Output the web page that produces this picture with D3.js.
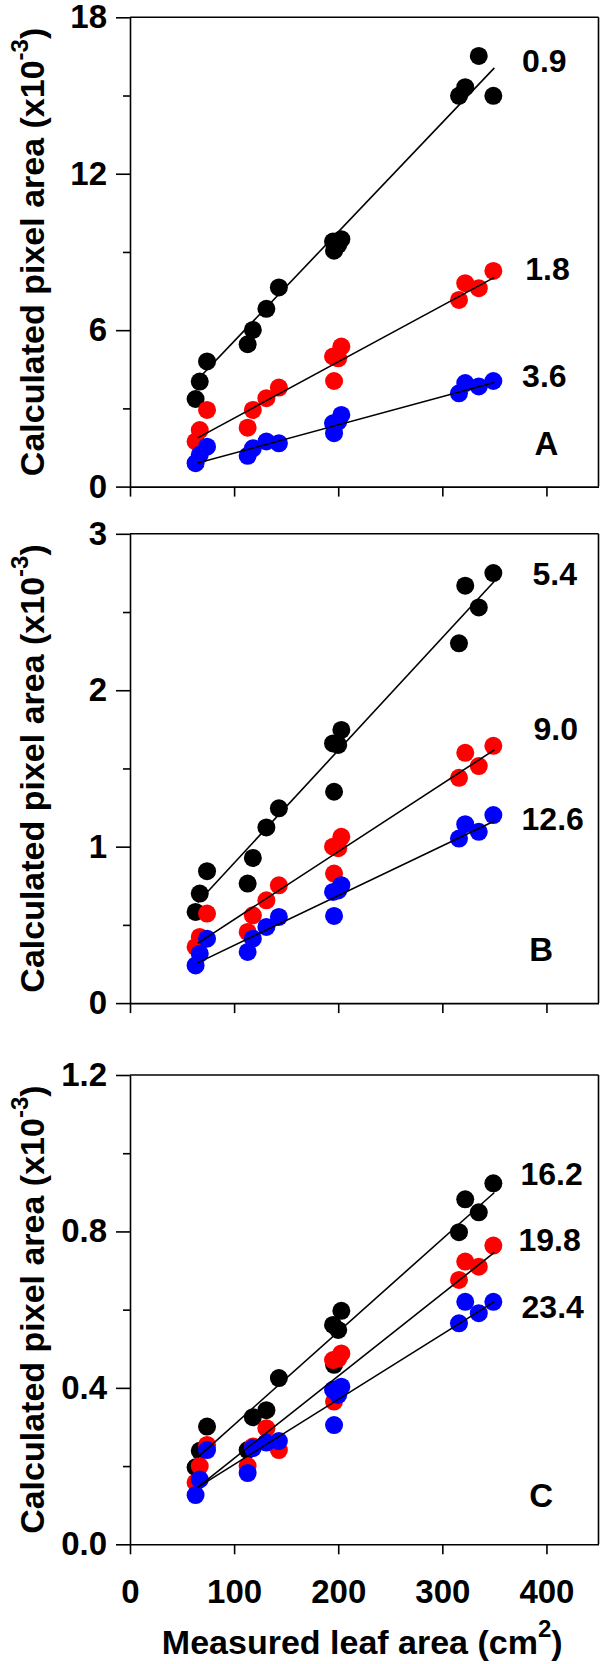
<!DOCTYPE html>
<html>
<head>
<meta charset="utf-8">
<script src="https://cdn.jsdelivr.net/npm/d3@7"></script>
<style>
  html, body { margin: 0; padding: 0; background: #fff; }
  svg { display: block; font-family: "Liberation Sans", Arial, Helvetica, sans-serif; font-weight: bold; }
</style>
</head>
<body>
<svg id="chart" width="600" height="1664"></svg>
<script>
// ---- data ----
const leafArea = [63, 67, 74, 113, 118, 131, 143, 195, 196, 200, 203, 316, 322, 335, 349];

// Panel A
const a_09 = [3.36, 4.03, 4.80, 5.46, 6.01, 6.82, 7.64, 9.40, 9.05, 9.27, 9.49, 14.99, 15.32, 16.52, 14.99];
const a_18 = [1.73, 2.17, 2.94, 2.26, 2.94, 3.39, 3.80, 4.99, 4.05, 4.92, 5.37, 7.16, 7.80, 7.61, 8.27];
const a_36 = [0.90, 1.22, 1.53, 1.18, 1.47, 1.73, 1.66, 2.43, 2.05, 2.49, 2.75, 3.58, 3.97, 3.84, 4.05];
// Panel B
const b_54 = [0.583, 0.70, 0.843, 0.764, 0.928, 1.123, 1.245, 1.66, 1.351, 1.65, 1.746, 2.30, 2.668, 2.529, 2.749];
const b_90 = [0.359, 0.423, 0.572, 0.455, 0.561, 0.657, 0.753, 1.00, 0.828, 0.99, 1.063, 1.44, 1.60, 1.515, 1.645];
const b_126 = [0.241, 0.316, 0.412, 0.327, 0.412, 0.487, 0.551, 0.711, 0.557, 0.72, 0.754, 1.052, 1.144, 1.095, 1.202];
// Panel C
const c_162 = [0.197, 0.239, 0.301, 0.241, 0.325, 0.343, 0.425, 0.561, 0.459, 0.548, 0.597, 0.798, 0.882, 0.849, 0.923];
const c_198 = [0.158, 0.200, 0.254, 0.200, 0.250, 0.297, 0.241, 0.471, 0.365, 0.475, 0.488, 0.676, 0.723, 0.710, 0.764];
const c_234 = [0.126, 0.166, 0.241, 0.182, 0.246, 0.260, 0.264, 0.395, 0.305, 0.382, 0.403, 0.565, 0.620, 0.591, 0.620];

// regression fits (slope, intercept) per series
const fitSlopeA = [0.04194, 0.0216, 0.01083];
const fitInterA = [1.38, 0.465, 0.20];
const fitSlopeB = [0.007206, 0.00434, 0.00318];
const fitInterB = [0.1745, 0.10, 0.0506];
const fitSlopeC = [0.002376, 0.002107, 0.001666];
const fitInterC = [0.068, 0.0089, 0.0374];
const fitRange = [65, 350];

// series labels and where they sit (data units)
const labelsA = ["0.9", "1.8", "3.6"];
const labelsB = ["5.4", "9.0", "12.6"];
const labelsC = ["16.2", "19.8", "23.4"];
const labelXA = [398, 401, 398], labelYA = [16.33, 8.35, 4.25];
const labelXB = [408, 409, 406], labelYB = [2.749, 1.757, 1.181];
const labelXC = [405, 403, 406], labelYC = [0.949, 0.780, 0.609];

const yTicksA = [0, 6, 12, 18], yMinorA = [3, 9, 15], yMaxA = 18, yFmtA = d3.format("d");
const yTicksB = [0, 1, 2, 3], yMinorB = [0.5, 1.5, 2.5], yMaxB = 3, yFmtB = d3.format("d");
const yTicksC = [0, 0.4, 0.8, 1.2], yMinorC = [0.2, 0.6, 1.0], yMaxC = 1.2, yFmtC = d3.format(".1f");
const xTicks = [0, 100, 200, 300, 400];
const xMax = 450;

const colors = ["#000000", "#ff0000", "#0000ff"];

const panels = [
  { series: [a_09, a_18, a_36], slope: fitSlopeA, inter: fitInterA, labels: labelsA, lx: labelXA, ly: labelYA,
    letter: "A", letterPos: [400, 1.66], ticks: yTicksA, minor: yMinorA, ymax: yMaxA, fmt: yFmtA, top: 17.3 },
  { series: [b_54, b_90, b_126], slope: fitSlopeB, inter: fitInterB, labels: labelsB, lx: labelXB, ly: labelYB,
    letter: "B", letterPos: [395, 0.348], ticks: yTicksB, minor: yMinorB, ymax: yMaxB, fmt: yFmtB, top: 533.8 },
  { series: [c_162, c_198, c_234], slope: fitSlopeC, inter: fitInterC, labels: labelsC, lx: labelXC, ly: labelYC,
    letter: "C", letterPos: [395, 0.126], ticks: yTicksC, minor: yMinorC, ymax: yMaxC, fmt: yFmtC, top: 1075 }
];

// ---- layout ----
const left = 130, right = 598.5, ph = 469.3;
const svg = d3.select("#chart");
const x = d3.scaleLinear().domain([0, xMax]).range([left, right]);

panels.forEach((p, pi) => {
  const y = d3.scaleLinear().domain([0, p.ymax]).range([p.top + ph, p.top]);
  const g = svg.append("g");

  // frame top & right
  g.append("line").attr("x1", left).attr("x2", right).attr("y1", p.top).attr("y2", p.top)
    .attr("stroke", "#000").attr("stroke-width", 1.6);
  g.append("line").attr("x1", right).attr("x2", right).attr("y1", p.top).attr("y2", p.top + ph)
    .attr("stroke", "#000").attr("stroke-width", 1.6);

  // y axis major
  g.append("g").attr("transform", `translate(${left},0)`)
    .call(d3.axisLeft(y).tickValues(p.ticks).tickFormat(p.fmt).tickSize(14).tickPadding(9).tickSizeOuter(0));
  // y axis minor
  g.append("g").attr("transform", `translate(${left},0)`)
    .call(d3.axisLeft(y).tickValues(p.minor).tickFormat("").tickSize(7).tickSizeOuter(0))
    .select(".domain").remove();
  // x axis
  g.append("g").attr("transform", `translate(0,${p.top + ph})`)
    .call(d3.axisBottom(x).tickValues(xTicks).tickSize(10).tickPadding(25).tickSizeOuter(0)
      .tickFormat(pi === 2 ? d3.format("d") : ""));

  g.selectAll(".domain, .tick line").attr("stroke", "#000").attr("stroke-width", 1.6);
  g.selectAll(".tick text").attr("font-size", 33).attr("font-weight", "bold")
    .attr("font-family", "Liberation Sans, Arial, sans-serif").attr("fill", "#000");

  // points
  p.series.forEach((s, si) => {
    g.append("g").selectAll("circle").data(s).join("circle")
      .attr("cx", (d, i) => x(leafArea[i]))
      .attr("cy", d => y(d))
      .attr("r", 9)
      .attr("fill", colors[si]);
  });

  // regression lines
  p.series.forEach((s, si) => {
    g.append("line")
      .attr("x1", x(fitRange[0])).attr("y1", y(p.inter[si] + p.slope[si] * fitRange[0]))
      .attr("x2", x(fitRange[1])).attr("y2", y(p.inter[si] + p.slope[si] * fitRange[1]))
      .attr("stroke", "#000").attr("stroke-width", 1.6);
  });

  // series labels
  p.labels.forEach((t, li) => {
    g.append("text").attr("x", x(p.lx[li])).attr("y", y(p.ly[li])).attr("dy", "0.36em")
      .attr("text-anchor", "middle").attr("font-size", 32).text(t);
  });
  g.append("text").attr("x", x(p.letterPos[0])).attr("y", y(p.letterPos[1])).attr("dy", "0.36em")
    .attr("text-anchor", "middle").attr("font-size", 33).text(p.letter);

  // y title
  const yt = g.append("text")
    .attr("transform", `translate(44,${p.top + ph / 2}) rotate(-90)`)
    .attr("text-anchor", "middle").attr("font-size", 34);
  yt.append("tspan").text("Calculated pixel area (x10");
  yt.append("tspan").attr("font-size", 24).attr("dy", -16).text("-3");
  yt.append("tspan").attr("font-size", 34).attr("dy", 16).text(")");
});

// x title
const xt = svg.append("text").attr("x", (left + right) / 2 - 2).attr("y", 1654)
  .attr("text-anchor", "middle").attr("font-size", 34);
xt.append("tspan").text("Measured leaf area (cm");
xt.append("tspan").attr("font-size", 24).attr("dy", -17).text("2");
xt.append("tspan").attr("font-size", 34).attr("dy", 17).text(")");
</script>
</body>
</html>
